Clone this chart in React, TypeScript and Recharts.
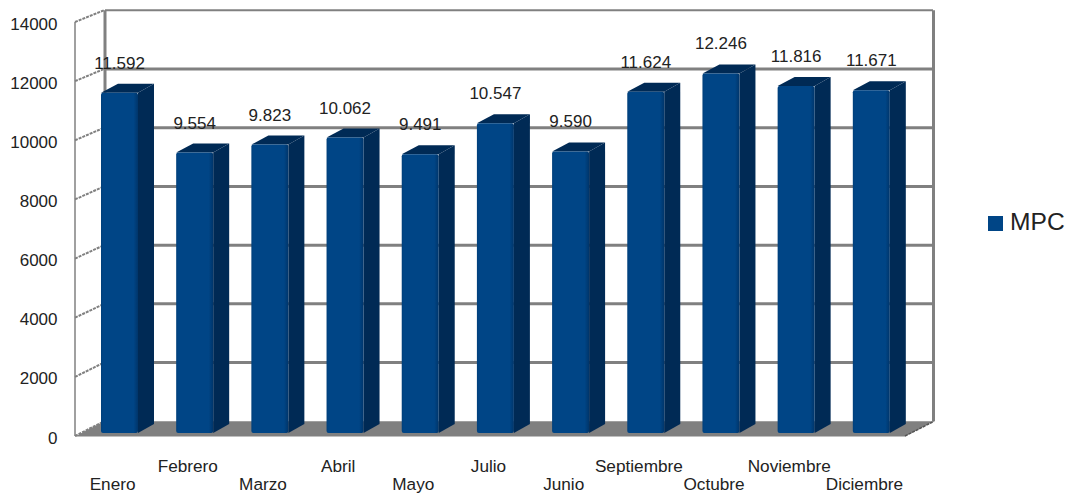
import React from "react";
import { ComposedChart, Bar, XAxis, YAxis, CartesianGrid, LabelList, Legend } from "recharts";

const months = ["Enero", "Febrero", "Marzo", "Abril", "Mayo", "Julio", "Junio", "Septiembre", "Octubre", "Noviembre", "Diciembre"];
const mpc = [11592, 9554, 9823, 10062, 9491, 10547, 9590, 11624, 12246, 11816, 11671];
const yTicks = [0, 2000, 4000, 6000, 8000, 10000, 12000, 14000];

const data = months.map((m, i) => ({ month: m, MPC: mpc[i] }));

const FONT = "'Liberation Sans', Arial, sans-serif";
const GREY = "#808080";
const TEXT = "#222222";
const BLUE = "#004586";
const DARK = "#002a55";
const TOP_Y = 22;
const BOTTOM_Y = 433;
const DX = 17;
const DY = 9;

const frontY = (y: number) => y + (3 * (y - TOP_Y)) / (BOTTOM_Y - TOP_Y);

const dots = (v: number) => String(v).replace(/\B(?=(\d{3})+$)/g, ".");

const GridLine = (props: any) => {
  const y = props.y1;
  const back = y - 11.7;
  const front = frontY(y);
  const isTop = Math.abs(y - TOP_Y) < 1;
  const isFloor = Math.abs(y - BOTTOM_Y) < 1;
  return (
    <g>
      {isFloor && (
        <g>
          <polygon points={`75,${front + 0.5} 905,${front + 0.5} 934,${back} 104,${back}`} fill={GREY} />
          <line x1={75} y1={front} x2={75} y2={frontY(TOP_Y)} stroke={GREY} strokeWidth={1.5} />
          <line x1={105} y1={back} x2={105} y2={TOP_Y - 11.7} stroke={GREY} strokeWidth={3} />
          <line x1={933.5} y1={back} x2={933.5} y2={TOP_Y - 11.7} stroke={GREY} strokeWidth={3} />
        </g>
      )}
      {!isFloor && <line x1={105} y1={back} x2={933} y2={back} stroke={GREY} strokeWidth={isTop ? 2 : 3} />}
      <line x1={75} y1={front} x2={104} y2={back} stroke={GREY} strokeWidth={2} strokeDasharray="3 1" />
      {isFloor && <line x1={905} y1={front} x2={934} y2={back} stroke="#555" strokeWidth={1.5} strokeDasharray="3 1" />}
    </g>
  );
};

const Bar3D = (props: any) => {
  const { x, y, width, height } = props;
  const r = x + width;
  const b = y + height;
  return (
    <g>
      <polygon points={`${x},${y} ${x + DX},${y - DY} ${r + DX - 1},${y - DY} ${r},${y}`} fill={DARK} />
      <polygon points={`${r},${y} ${r + DX - 1},${y - DY} ${r + DX - 1},${b - DY} ${r},${b}`} fill={DARK} />
      <defs>
        <linearGradient id="frontFace" x1="0" y1="0" x2="1" y2="0">
          <stop offset="0" stopColor="#003f7a" />
          <stop offset="0.06" stopColor={BLUE} />
          <stop offset="0.88" stopColor={BLUE} />
          <stop offset="1" stopColor="#00356a" />
        </linearGradient>
      </defs>
      <rect x={x} y={y} width={width} height={height} rx={2} fill="url(#frontFace)" />
    </g>
  );
};

const YTick = (props: any) => (
  <text x={57.5} y={frontY(props.y) + 7.5} textAnchor="end" fontFamily={FONT} fontSize={17} fill={TEXT}>
    {props.payload.value}
  </text>
);

const XTick = (props: any) => (
  <text
    x={props.x - 7}
    y={props.index % 2 === 0 ? 490 : 472}
    textAnchor="middle"
    fontFamily={FONT}
    fontSize={17.2}
    fill={TEXT}
  >
    {props.payload.value}
  </text>
);

export default function App() {
  return (
    <div style={{ position: "absolute", left: 0, top: 0, width: 1071, height: 496, background: "#fff" }}>
      <ComposedChart width={1071} height={496} data={data} margin={{ top: TOP_Y, right: 79, bottom: 0, left: 0 }}>
        <CartesianGrid vertical={false} horizontal={(p: any) => <GridLine key={p.key ?? p.index} {...p} />} />
        <XAxis dataKey="month" axisLine={false} tickLine={false} interval={0} tick={XTick} height={63} />
        <YAxis domain={[0, 14000]} ticks={yTicks} axisLine={false} tickLine={false} tick={YTick} width={82} />
        <Legend
          layout="vertical"
          align="right"
          verticalAlign="top"
          iconType="square"
          iconSize={15}
          wrapperStyle={{ left: 988, top: 207.5, right: "auto", width: 83, fontFamily: FONT, fontSize: 24.6 }}
          formatter={(v: string) => <span style={{ color: TEXT, marginLeft: 3, whiteSpace: "nowrap" }}>{v}</span>}
        />
        <Bar dataKey="MPC" name="MPC" fill={BLUE} barSize={37} shape={Bar3D} isAnimationActive={false}>
          <LabelList
            dataKey="MPC"
            position="top"
            offset={24}
            formatter={dots}
            style={{ fontFamily: FONT, fontSize: 17, fill: TEXT }}
          />
        </Bar>
      </ComposedChart>
    </div>
  );
}
